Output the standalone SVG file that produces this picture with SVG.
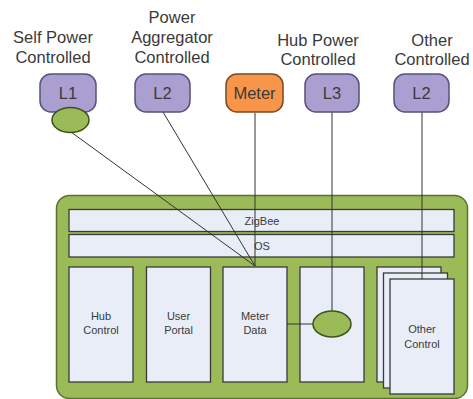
<svg xmlns="http://www.w3.org/2000/svg" width="473" height="399" viewBox="0 0 473 399">
<style>
text{font-family:"Liberation Sans",Arial,sans-serif;fill:#3a3a3a;text-anchor:middle}
.lbl{font-size:16.5px}
.nd{font-size:16.5px}
.sm{font-size:11px}
.purple{fill:#ab9fd1;stroke:#56527a;stroke-width:1.5}
.orange{fill:#f7964a;stroke:#7a4a20;stroke-width:1.5}
.oval{fill:#9bbb59;stroke:#3c4f1e;stroke-width:1.5}
.bar{fill:#e9edf7;stroke:#3a3a3a;stroke-width:1.3}
.ln{stroke:#333;stroke-width:1;fill:none}
</style>
<rect width="473" height="399" fill="#fff"/>
<g id="container">
<rect x="56.5" y="195.5" width="411" height="203" rx="13" fill="#9bbb59" stroke="#5b7232" stroke-width="1.5"/>
</g>
<g id="zigbee"><rect class="bar" x="69" y="209.5" width="385" height="22"/><text class="sm" x="262" y="224.5">ZigBee</text></g>
<g id="os"><rect class="bar" x="69" y="234.5" width="385" height="22.5"/><text class="sm" x="262" y="250">OS</text></g>
<g id="hub-control"><rect class="bar" x="69" y="267" width="64" height="115"/><text class="sm" x="101" y="320">Hub</text><text class="sm" x="101" y="334">Control</text></g>
<g id="user-portal"><rect class="bar" x="146.5" y="267" width="64" height="115"/><text class="sm" x="178.5" y="320">User</text><text class="sm" x="178.5" y="334">Portal</text></g>
<g id="meter-data"><rect class="bar" x="223" y="267" width="64" height="115"/><text class="sm" x="255" y="320">Meter</text><text class="sm" x="255" y="334">Data</text></g>
<g id="hub-slot"><rect class="bar" x="300" y="267" width="64" height="115"/></g>
<g id="other-control">
<rect class="bar" x="377" y="267" width="64" height="115"/>
<rect class="bar" x="383.5" y="273" width="64" height="115"/>
<rect class="bar" x="390" y="279" width="64" height="115"/>
<text class="sm" x="422" y="333">Other</text><text class="sm" x="422" y="348">Control</text>
</g>
<g id="connectors">
<line class="ln" x1="71" y1="132" x2="255" y2="266"/>
<line class="ln" x1="163" y1="112" x2="255" y2="266"/>
<line class="ln" x1="255" y1="113" x2="255" y2="266"/>
<line class="ln" x1="332" y1="112" x2="332" y2="311"/>
<line class="ln" x1="422" y1="112" x2="422" y2="279"/>
<line class="ln" x1="287" y1="324" x2="313" y2="324"/>
</g>
<g id="hub-oval"><ellipse class="oval" cx="332" cy="324" rx="19" ry="13"/></g>
<g id="l1"><text class="lbl" x="53" y="43">Self Power</text><text class="lbl" x="53" y="63">Controlled</text>
<rect class="purple" x="40" y="74" width="56" height="38" rx="11"/><text class="nd" x="68" y="99">L1</text>
<ellipse class="oval" cx="70.5" cy="120" rx="18.5" ry="12.5"/></g>
<g id="l2"><text class="lbl" x="172" y="23">Power</text><text class="lbl" x="172" y="43">Aggregator</text><text class="lbl" x="172" y="63">Controlled</text>
<rect class="purple" x="135" y="74" width="55" height="38" rx="11"/><text class="nd" x="162.5" y="99">L2</text></g>
<g id="meter"><rect class="orange" x="226" y="74" width="57" height="38" rx="11"/><text class="nd" x="254.5" y="99">Meter</text></g>
<g id="l3"><text class="lbl" x="318" y="46">Hub Power</text><text class="lbl" x="318" y="65">Controlled</text>
<rect class="purple" x="305" y="74" width="54" height="38" rx="11"/><text class="nd" x="332" y="99">L3</text></g>
<g id="l2-other"><text class="lbl" x="432" y="46">Other</text><text class="lbl" x="432" y="65">Controlled</text>
<rect class="purple" x="394" y="74" width="55" height="38" rx="11"/><text class="nd" x="421.5" y="99">L2</text></g>
</svg>
